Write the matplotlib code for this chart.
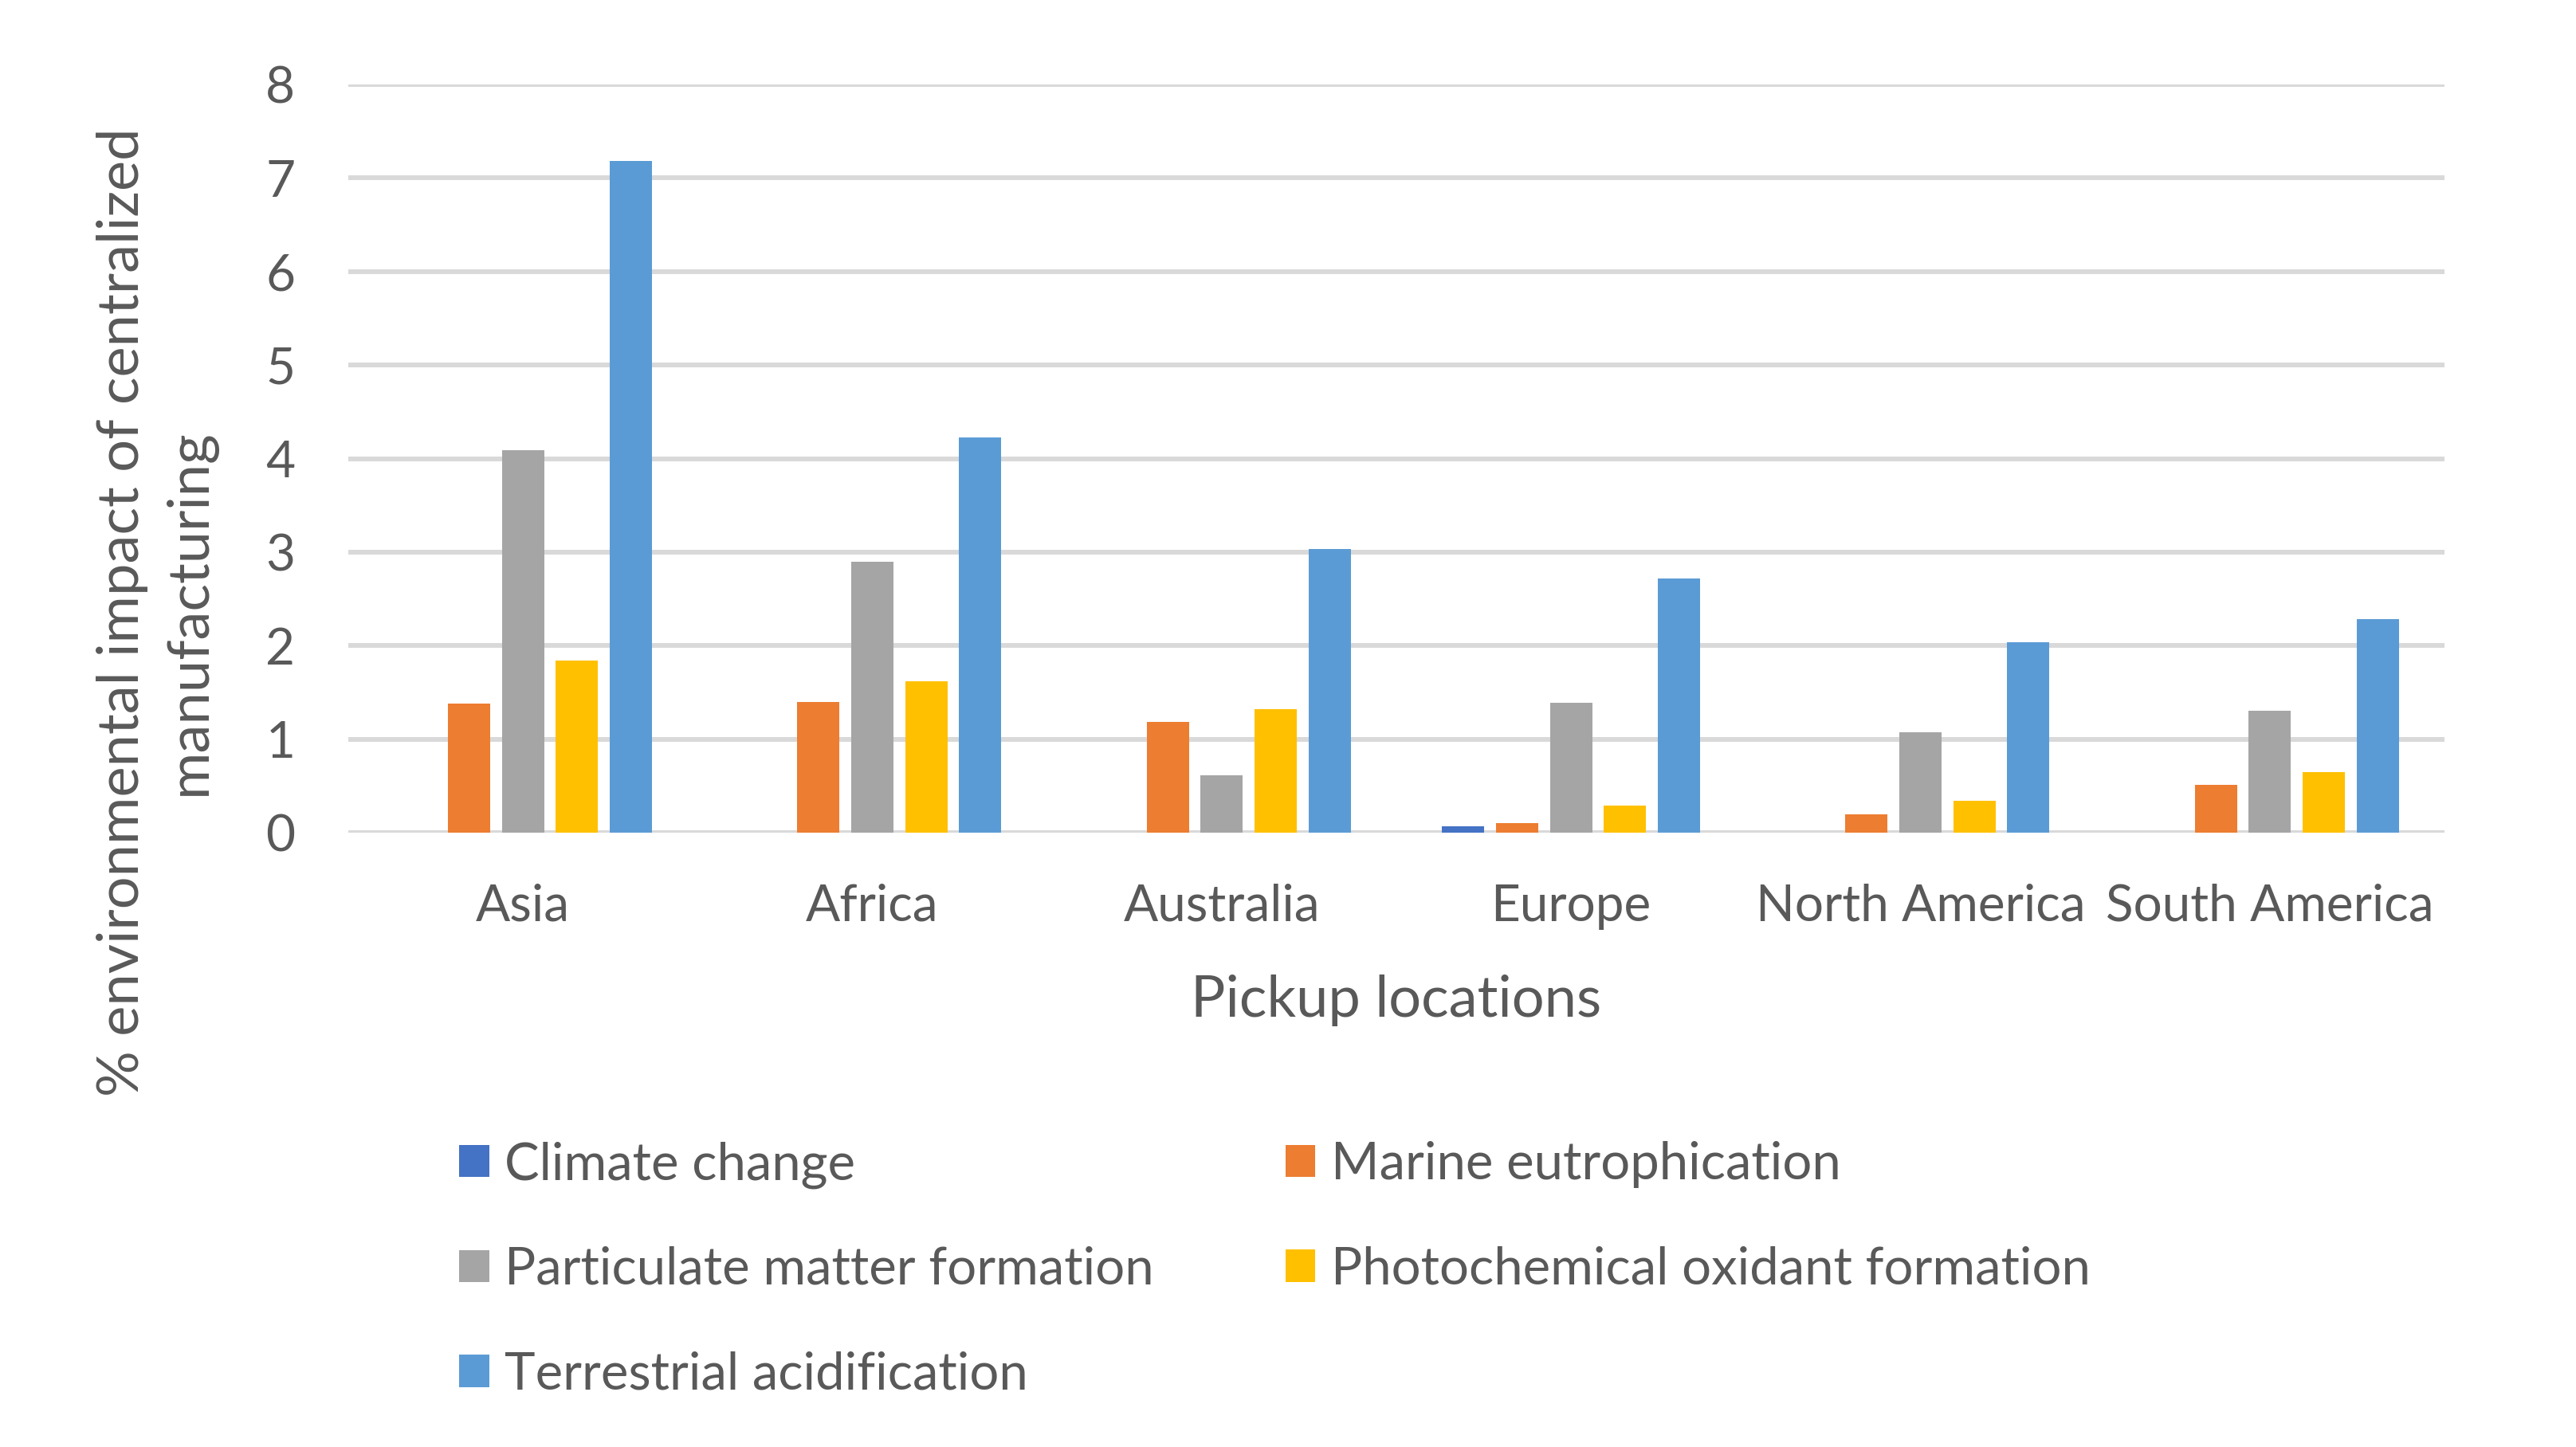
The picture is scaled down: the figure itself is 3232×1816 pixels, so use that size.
import numpy as np
import matplotlib
matplotlib.use('Agg')
import matplotlib.pyplot as plt

# Data
locations = ['Asia', 'Africa', 'Australia', 'Europe', 'North America', 'South America']
climate_change = [0, 0, 0, 0.07, 0, 0]
marine_eutrophication = [1.38, 1.40, 1.18, 0.10, 0.20, 0.51]
particulate_matter = [4.09, 2.90, 0.61, 1.39, 1.07, 1.30]
photochemical_oxidant = [1.84, 1.62, 1.32, 0.29, 0.34, 0.65]
terrestrial_acidification = [7.18, 4.23, 3.03, 2.72, 2.04, 2.28]

series_names = ['Climate change', 'Marine eutrophication', 'Particulate matter formation',
                'Photochemical oxidant formation', 'Terrestrial acidification']
series = [climate_change, marine_eutrophication, particulate_matter,
          photochemical_oxidant, terrestrial_acidification]
colors = ['#4472C4', '#ED7D31', '#A5A5A5', '#FFC000', '#5B9BD5']

text_color = '#595959'
plt.rcParams['font.family'] = ['Lato', 'DejaVu Sans']

fig = plt.figure(figsize=(32.32, 18.16), dpi=100)
ax = fig.add_axes([437 / 3232, 1 - 1045 / 1816, (3067 - 437) / 3232, (1045 - 106) / 1816])

x = np.arange(len(locations))
step = 0.1545
width = 0.121
bars = []
for i, (name, vals, c) in enumerate(zip(series_names, series, colors)):
    b = ax.bar(x + (i - 2) * step, vals, width=width, color=c, label=name, zorder=3)
    bars.append(b)

ax.set_xlim(-0.5, len(locations) - 0.5)
ax.set_ylim(0, 8)
ax.set_yticks(range(0, 9))
ax.set_xticks(x)
ax.set_xticklabels(locations)
ax.grid(axis='y', color='#D9D9D9', linewidth=4.3, zorder=0)
ax.set_axisbelow(True)
for s in ax.spines.values():
    s.set_visible(False)
ax.tick_params(axis='y', length=0, pad=48, labelsize=46, labelcolor=text_color)
ax.tick_params(axis='x', length=0, pad=46, labelsize=46, labelcolor=text_color)

fig.text(1752 / 3232, 1 - 1256 / 1816, 'Pickup locations', ha='center', va='center',
         fontsize=52, color=text_color)
fig.text(196 / 3232, 1 - 768 / 1816, '% environmental impact of centralized\nmanufacturing',
         rotation=90, ha='center', va='center', multialignment='center',
         fontsize=52, color=text_color, linespacing=1.36)

order = [0, 2, 4, 1, 3]
handles = [bars[k] for k in order]
labels = [series_names[k] for k in order]
fig.legend(handles, labels, loc='upper left', bbox_to_anchor=(576 / 3232, 1 - 1432 / 1816),
           ncol=2, frameon=False, fontsize=47, labelcolor=text_color,
           handlelength=0.58, handleheight=0.58, handletextpad=0.3,
           labelspacing=1.11, columnspacing=2.52, borderpad=0, borderaxespad=0)

fig.savefig('out.png', dpi=100, facecolor='white')
